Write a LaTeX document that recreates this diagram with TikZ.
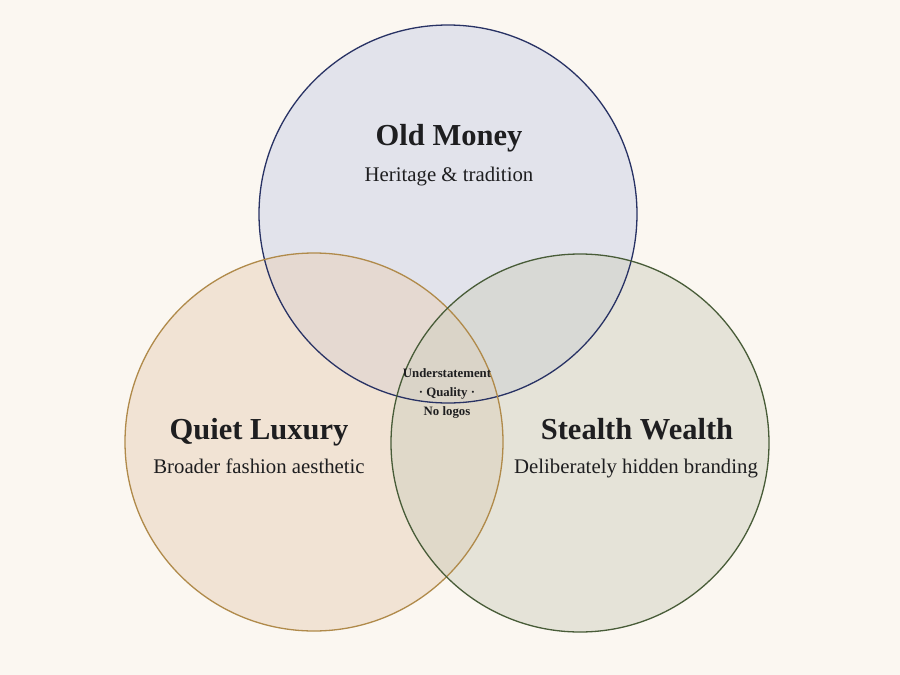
\documentclass[tikz,border=0pt]{standalone}
\usepackage{fontspec}
\setmainfont{Liberation Serif}
\usetikzlibrary{positioning}
\definecolor{paper}{RGB}{251,247,241}
\definecolor{oldfill}{RGB}{203,209,230}
\definecolor{oldline}{RGB}{40,50,100}
\definecolor{quietfill}{RGB}{232,208,184}
\definecolor{quietline}{RGB}{176,138,74}
\definecolor{stealthfill}{RGB}{208,208,192}
\definecolor{stealthline}{RGB}{72,92,56}
\definecolor{ink}{RGB}{30,30,32}
\tikzset{
  set/.style={
    circle,
    minimum size=378pt,
    inner sep=0pt,
    fill opacity=0.5
  },
  rim/.style={line width=1.3pt},
  title/.style={
    font=\fontsize{30.5}{34}\selectfont\bfseries,
    text=ink,
    anchor=base,
    inner sep=0pt
  },
  sub/.style={
    font=\fontsize{20.8}{24}\selectfont,
    text=ink,
    anchor=base,
    inner sep=0pt
  },
  core/.style={
    font=\fontsize{12.8}{19}\selectfont\bfseries,
    text=ink,
    align=center,
    anchor=base,
    inner sep=0pt
  }
}
\begin{document}
\begin{tikzpicture}[x=1pt,y=-1pt]
  \fill[paper] (0,0) rectangle (900,675);
  \useasboundingbox (0,0) rectangle (900,675);
  % the three sets
  \node (old) [set, fill=oldfill] at (448,214) {};
  \node (quiet) [set, fill=quietfill] at (314,442) {};
  \node (stealth) [set, fill=stealthfill] at (580,443) {};
  \draw[rim, oldline] (old) circle (189pt);
  \draw[rim, quietline] (quiet) circle (189pt);
  \draw[rim, stealthline] (stealth) circle (189pt);
  % labels
  \node (oldt) [title] at (449,145) {Old Money};
  \node (olds) [sub] at (449,181) {Heritage \& tradition};
  \node (quiett) [title] at (259,439) {Quiet Luxury};
  \node (quiets) [sub] at (259,473) {Broader fashion aesthetic};
  \node (stealtht) [title] at (637,439) {Stealth Wealth};
  \node (stealths) [sub] at (636,473) {Deliberately hidden branding};
  \node (mid) [core] at (447,415) {Understatement\\· Quality ·\\No logos};
\end{tikzpicture}
\end{document}
